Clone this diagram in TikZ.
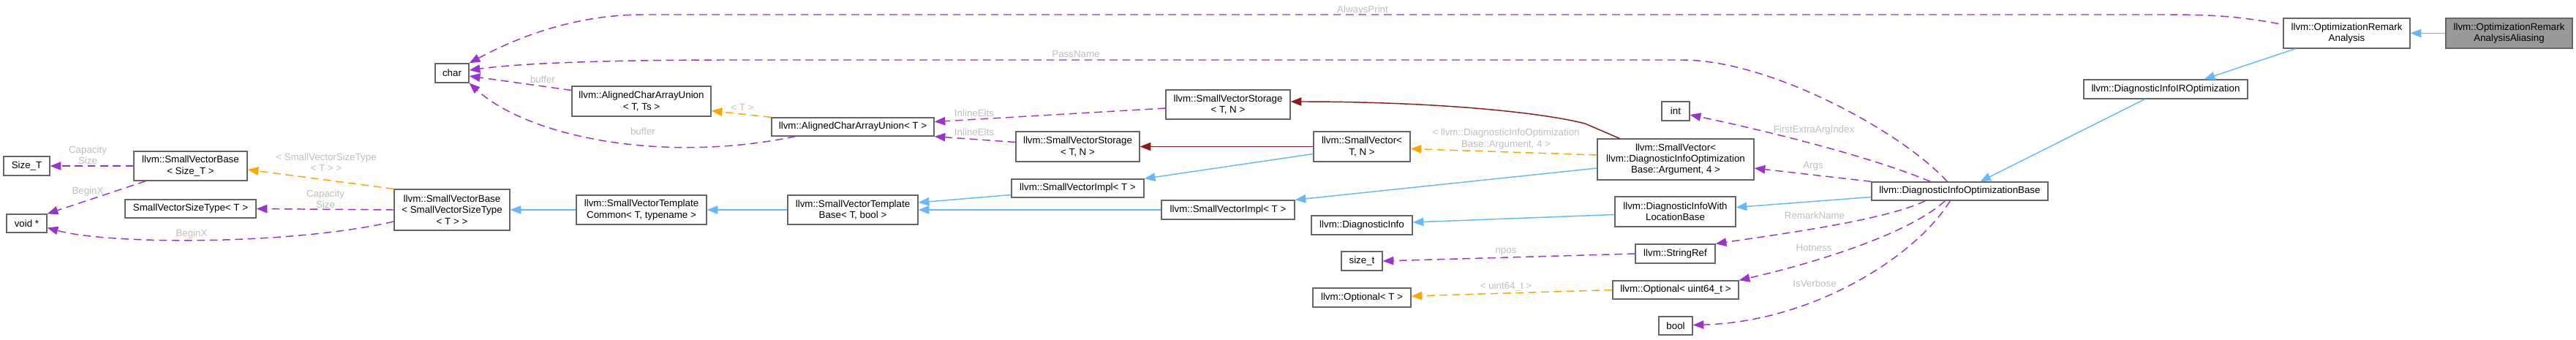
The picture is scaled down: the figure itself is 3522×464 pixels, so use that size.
\documentclass[tikz,border=0pt]{standalone}
\usepackage{fontspec}
\setmainfont{Liberation Sans}
\definecolor{dxblue}{HTML}{63B8FF}
\definecolor{dxred}{HTML}{8B1A1A}
\definecolor{dxpurple}{HTML}{9A32CD}
\definecolor{dxorange}{HTML}{FFA500}
\definecolor{dxframe}{HTML}{666666}
\definecolor{dxlabel}{HTML}{BEBEBE}
\definecolor{dxcur}{HTML}{999999}
\usetikzlibrary{arrows.meta,calc}

\begin{document}
\begin{tikzpicture}[x=0.75pt,y=-0.75pt,
  cls/.style={draw=dxframe,line width=1pt,fill=white,align=center,
    font=\fontsize{10}{11.5}\selectfont,inner sep=1pt,minimum height=19.5pt},
  cur/.style={cls,fill=dxcur},
  wd/.style={minimum width=#1*0.75pt},
  ht/.style={minimum height=#1*0.75pt},
  lbl/.style={text=dxlabel,align=center,font=\fontsize{10}{11.5}\selectfont,inner sep=0pt},
  dxtip/.style={-{Triangle[length=11pt,width=8.5pt]}},
  inh/.style={dxtip,dxblue,line width=1.1pt},
  priv/.style={dxtip,dxred,line width=1.1pt},
  usage/.style={dxtip,dxpurple,line width=1.1pt,dash pattern=on 8pt off 5pt},
  tpl/.style={dxtip,dxorange,line width=1.1pt,dash pattern=on 8pt off 5pt}]
  \useasboundingbox (0,0) rectangle (3522,464);

  % classes
  \node[cls,wd=63,ht=26] (sizeT) at (36.5,227) {Size\_T};
  \node[cls,wd=55,ht=25] (voidp) at (36.5,305.5) {void *};
  \node[cls,wd=155,ht=40] (svbSize) at (260.5,227) {llvm::SmallVectorBase\\< Size\_T >};
  \node[cls,wd=179,ht=25] (svst) at (260.5,285.5) {SmallVectorSizeType< T >};
  \node[cls,wd=46,ht=26] (charT) at (618,100) {char};
  \node[cls,wd=190,ht=41] (acauTs) at (877,138.5) {llvm::AlignedCharArrayUnion\\< T, Ts >};
  \node[cls,wd=158,ht=56] (svbT) at (618,287) {llvm::SmallVectorBase\\< SmallVectorSizeType\\< T > >};
  \node[cls,wd=178,ht=40] (svtc) at (877,287) {llvm::SmallVectorTemplate\\Common< T, typename >};
  \node[cls,wd=222,ht=25] (acauT) at (1166,173.5) {llvm::AlignedCharArrayUnion< T >};
  \node[cls,wd=178,ht=40] (svtb) at (1166,287) {llvm::SmallVectorTemplate\\Base< T, bool >};
  \node[cls,wd=169,ht=41] (svsN) at (1473.5,200.5) {llvm::SmallVectorStorage\\< T, N >};
  \node[cls,wd=181,ht=25] (sviN) at (1473.5,257.5) {llvm::SmallVectorImpl< T >};
  \node[cls,wd=170,ht=40] (svsArg) at (1679,143) {llvm::SmallVectorStorage\\< T, N >};
  \node[cls,wd=182,ht=26] (sviArg) at (1679,287) {llvm::SmallVectorImpl< T >};
  \node[cls,wd=132,ht=41] (svTN) at (1862,200.5) {llvm::SmallVector<\\T, N >};
  \node[cls,wd=138,ht=26] (dinfo) at (1862,308) {llvm::DiagnosticInfo};
  \node[cls,wd=56,ht=26] (sizet) at (1862,357) {size\_t};
  \node[cls,wd=134,ht=26] (optT) at (1862,407) {llvm::Optional< T >};
  \node[cls,wd=38,ht=26] (intT) at (2291,152) {int};
  \node[cls,wd=214,ht=56] (svArg) at (2291,218)
    {llvm::SmallVector<\\ llvm::DiagnosticInfoOptimization\\Base::Argument, 4 >};
  \node[cls,wd=165,ht=41] (dwlb) at (2290.5,289.5) {llvm::DiagnosticInfoWith\\LocationBase};
  \node[cls,wd=109,ht=26] (sref) at (2290.5,347) {llvm::StringRef};
  \node[cls,wd=172,ht=25] (optU) at (2291,396.5) {llvm::Optional< uint64\_t >};
  \node[cls,wd=46,ht=25] (boolT) at (2291,445.5) {bool};
  \node[cls,wd=241,ht=25] (dob) at (2679.5,261.5) {llvm::DiagnosticInfoOptimizationBase};
  \node[cls,wd=224,ht=26] (diro) at (2961,122) {llvm::DiagnosticInfoIROptimization};
  \node[cls,wd=173,ht=41] (ora) at (3208.5,45.5) {llvm::OptimizationRemark\\Analysis};
  \node[cur,wd=173,ht=41] (oraa) at (3430.5,45.5) {llvm::OptimizationRemark\\AnalysisAliasing};

  % edge labels
  \node[lbl] (lAlways) at (1863,14) {AlwaysPrint};
  \node[lbl] (lPass) at (1471,74) {PassName};
  \node[lbl] (lBufA) at (742,109) {buffer};
  \node[lbl] (lBufB) at (879,180) {buffer};
  \node[lbl] (lT) at (1015,147) {< T >};
  \node[lbl] (lInlA) at (1332,155) {InlineElts};
  \node[lbl] (lInlB) at (1332,181) {InlineElts};
  \node[lbl] (lArgT) at (2059,190) {< llvm::DiagnosticInfoOptimization\\Base::Argument, 4 >};
  \node[lbl] (lSvst) at (446,222) {< SmallVectorSizeType\\< T > >};
  \node[lbl] (lCapA) at (445,272) {Capacity\\Size};
  \node[lbl] (lBeginA) at (262,320) {BeginX};
  \node[lbl] (lCapB) at (120,212) {Capacity\\Size};
  \node[lbl] (lBeginB) at (120,262) {BeginX};
  \node[lbl] (lFirst) at (2480,178) {FirstExtraArgIndex};
  \node[lbl] (lArgs) at (2479,227) {Args};
  \node[lbl] (lRemark) at (2481,295) {RemarkName};
  \node[lbl] (lNpos) at (2059,344) {npos};
  \node[lbl] (lHot) at (2480,339) {Hotness};
  \node[lbl] (lU) at (2059,392) {< uint64\_t >};
  \node[lbl] (lVerb) at (2481,388) {IsVerbose};

  % public inheritance
  \draw[inh] (oraa) -- (ora);
  \draw[inh] ($(ora.south west)+(17,0)$) -- ($(diro.north east)+(-60,0)$);
  \draw[inh] ($(diro.south west)+(84,0)$) -- ($(dob.north west)+(149,0)$);
  \draw[inh] ($(dob.west)+(0,8)$) -- ($(dwlb.east)+(0,-6)$);
  \draw[inh] ($(dwlb.west)+(0,4)$) -- ($(dinfo.east)+(0,-4)$);
  \draw[inh] ($(svArg.west)+(0,12)$) -- (sviArg.north east);
  \draw[inh] ($(svTN.west)+(0,10)$) -- (sviN.north east);
  \draw[inh] (sviArg.west) -- (svtb.east);
  \draw[inh] ($(sviN.west)+(0,9)$) -- ($(svtb.east)+(0,-10)$);
  \draw[inh] (svtb) -- (svtc);
  \draw[inh] (svtc) -- (svbT);

  % private inheritance
  \draw[priv] (svTN) -- (svsN);
  \draw[priv] ($(svArg.north west)+(31,0)$) -- (2167,169)
    .. controls (2100,152) and (1950,139) .. ($(svsArg.east)+(0,-4)$);

  % template instances
  \draw[tpl] ($(svArg.west)+(0,-6)$) -- ($(svTN.east)+(0,3)$);
  \draw[tpl] (optU.west) -- ($(optT.east)+(0,-2)$);
  \draw[tpl] (acauT.north west) -- ($(acauTs.east)+(0,13)$);
  \draw[tpl] (svbT.north west) -- ($(svbSize.east)+(0,5)$);

  % members
  \draw[usage] ($(ora.west)+(-6,-13)$) .. controls (3060,22) and (3020,20) .. (2960,20)
    -- (880,20) .. controls (780,20) and (700,55) .. (charT.north east);
  \draw[usage] ($(dob.north west)+(104,0)$) .. controls (2600,180) and (2420,82) .. (2300,82)
    -- (1000,82) .. controls (800,82) and (700,88) .. ($(charT.east)+(0,-4)$);
  \draw[usage] ($(acauTs.west)+(0,-15)$) -- ($(charT.east)+(0,4)$);
  \draw[usage] ($(acauT.south west)+(33,0)$) .. controls (900,225) and (720,185) .. (charT.south east);
  \draw[usage] ($(svsArg.west)+(0,5)$) -- ($(acauT.east)+(0,-7)$);
  \draw[usage] ($(svsN.west)+(0,-6)$) -- (acauT.south east);
  \draw[usage] (svbT.west) -- (svst.east);
  \draw[usage] ($(svbT.west)+(0,16)$) .. controls (400,335) and (150,335) .. ($(voidp.east)+(0,6)$);
  \draw[usage] (svbSize.west) -- (sizeT.east);
  \draw[usage] ($(svbSize.south west)+(17,0)$) -- (voidp.north east);
  \draw[usage] ($(dob.north west)+(81,0)$) .. controls (2560,215) and (2420,180) .. ($(intT.east)+(0,5)$);
  \draw[usage] (dob.north west) -- ($(svArg.east)+(0,12)$);
  \draw[usage] ($(dob.south west)+(74,0)$) .. controls (2580,300) and (2450,318) .. (sref.north east);
  \draw[usage] (sref.west) -- (sizet.east);
  \draw[usage] ($(dob.south west)+(101,0)$) .. controls (2610,320) and (2480,360) .. (optU.north east);
  \draw[usage] ($(dob.south west)+(108,0)$) .. controls (2620,350) and (2480,440) .. ($(boolT.east)+(0,-1)$);
\end{tikzpicture}
\end{document}
